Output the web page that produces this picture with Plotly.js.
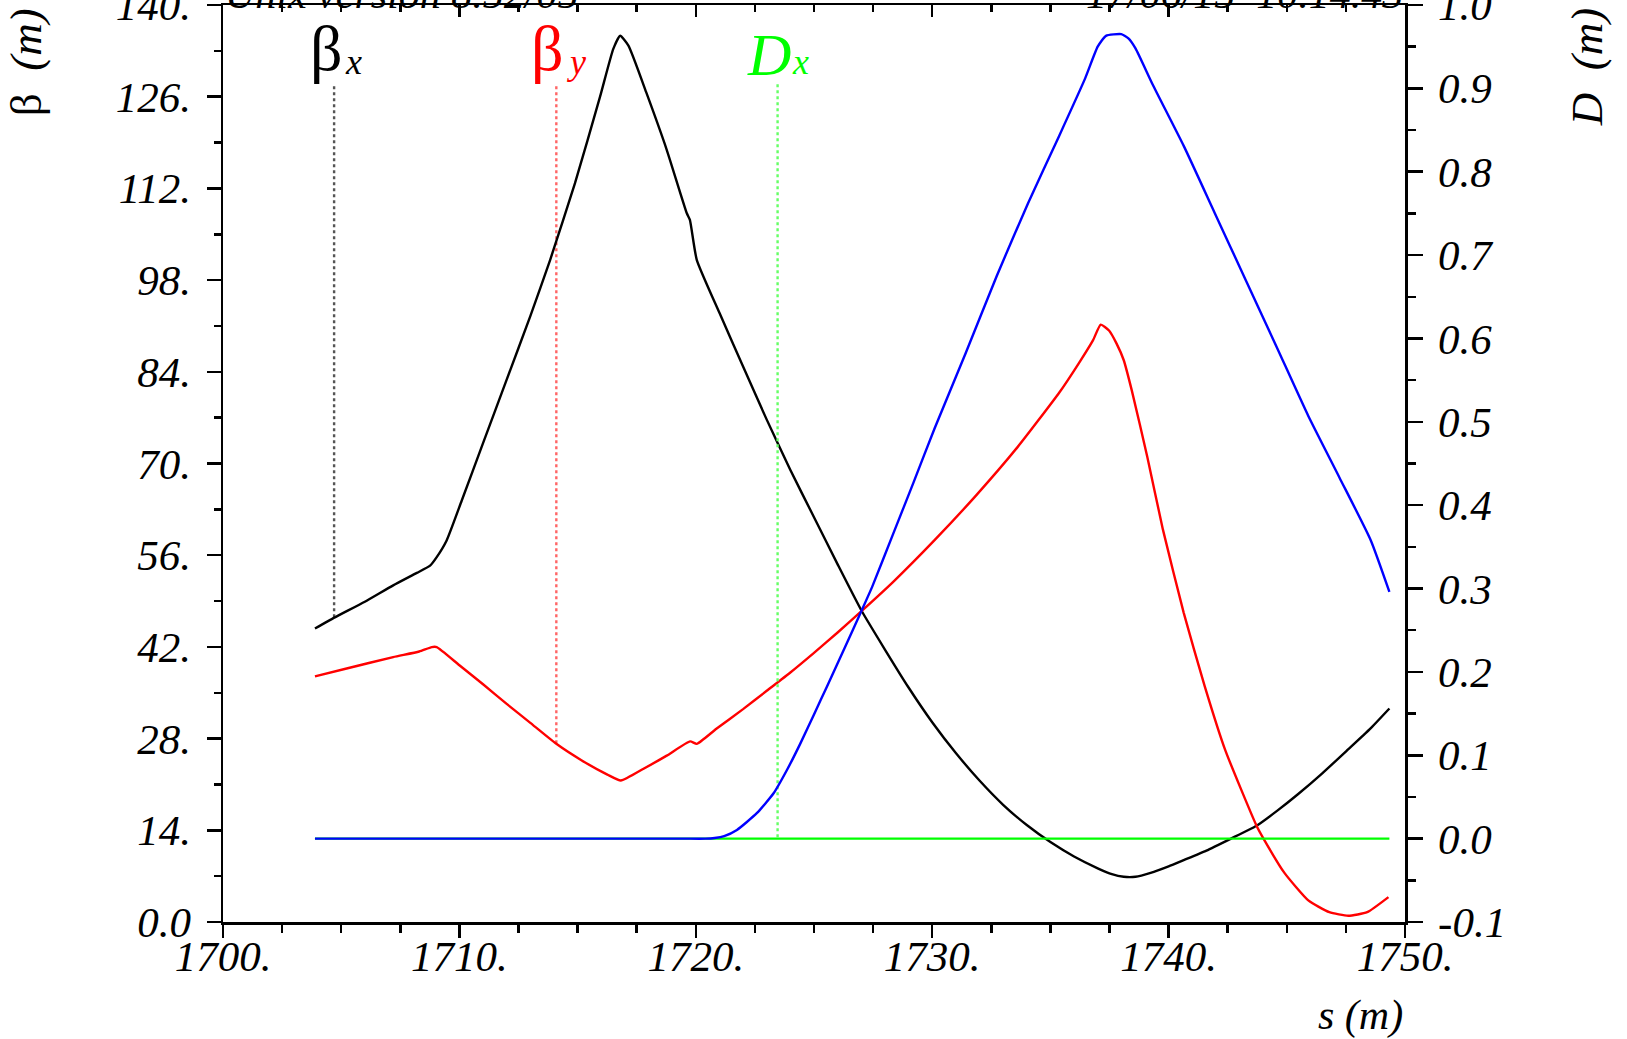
<!DOCTYPE html>
<html>
<head>
<meta charset="utf-8">
<script src="https://cdn.plot.ly/plotly-3.0.1.min.js"></script>
<style>html,body{margin:0;padding:0;background:#fff;}#chart{width:1627px;height:1039px;}</style>
</head>
<body>
<div id="chart"></div>
<script>
// ---- data ----
const sBetaX = [1703.89,1704.73,1706.0,1707.2,1708.2,1708.76,1709.04,1709.46,1710.1,1711.0,1712.0,1713.0,1713.84,1714.89,1715.95,1716.51,1716.8,1717.15,1717.92,1718.77,1719.62,1719.75,1720.04,1721,1722,1723,1724,1725,1726,1727,1728,1729,1730,1731,1732,1733,1734,1735,1736,1737,1737.6,1738.1,1738.6,1739.24,1740.0,1740.64,1741.6,1742.62,1743.72,1744.6,1745.47,1746.5,1747.58,1748.5,1749.34];
const betaX  = [44.8,46.5,48.9,51.4,53.3,54.4,55.7,58.25,64.35,73.1,82.8,92.5,101.1,112.8,126.0,133.3,135.3,133.8,126.5,117.9,108.2,107.2,101.1,93.0,84.8,76.7,69.0,61.8,54.6,47.6,41.6,35.8,30.5,25.8,21.6,17.9,14.8,12.2,10.0,8.2,7.3,6.9,6.9,7.5,8.5,9.45,10.9,12.7,14.7,17.0,19.5,22.7,26.3,29.4,32.6];

const sBetaY = [1703.89,1705.23,1707.2,1708.3,1708.83,1709.04,1710.0,1711.0,1712.0,1713.0,1714.1,1715.16,1716.26,1716.83,1717.79,1718.77,1719.76,1720.04,1720.87,1722.0,1723.0,1724.0,1725.0,1726.0,1727.02,1728.34,1730.1,1731.85,1733.61,1735.37,1736.2,1736.8,1737.13,1737.48,1737.8,1738.1,1738.44,1739.1,1739.76,1740.64,1741.52,1742.4,1743.72,1744.02,1744.9,1745.91,1746.8,1747.6,1748.4,1749.3];
const betaY  = [37.5,38.7,40.45,41.3,41.97,41.97,39.2,36.3,33.3,30.4,27.2,24.7,22.5,21.6,23.4,25.4,27.57,27.2,29.5,32.5,35.3,38.1,41.1,44.2,47.5,51.9,58.3,65.1,72.5,80.8,85.3,88.8,91.2,90.3,88.3,85.8,81.2,71.0,59.9,47.2,36.1,26.2,14.7,12.7,7.5,3.3,1.5,0.95,1.5,3.8];

const sDx = [1703.89,1749.34];
const dispX = [0.0,0.0];

const sDy = [1703.89,1712.0,1719.5,1720.4,1720.8,1721.2,1721.74,1722.58,1723.29,1723.85,1724.42,1725.0,1725.54,1726.3,1727.02,1727.46,1728.34,1729.22,1730.1,1731.41,1732.73,1734.05,1735.37,1736.47,1737.0,1737.35,1738.0,1738.3,1738.6,1739.32,1740.64,1741.96,1743.28,1744.6,1745.91,1747.23,1748.55,1749.34];
const dispY = [0.0,0.0,0.0,0.0,0.0008,0.003,0.0104,0.0305,0.0544,0.082,0.114,0.149,0.182,0.229,0.274,0.302,0.365,0.428,0.492,0.582,0.675,0.762,0.843,0.912,0.950,0.963,0.965,0.960,0.948,0.905,0.831,0.750,0.669,0.588,0.507,0.433,0.358,0.296];

// label marker lines: s position, top value, value on the curve
const markBx = {s:1704.7, top:127.6, val:46.5};
const markBy = {s:1714.1, top:127.6, val:27.2};
const markDx = {s:1723.46, top:0.905, val:0.0};

const xTickVals = [1700,1710,1720,1730,1740,1750];
const xTickText = ['1700.','1710.','1720.','1730.','1740.','1750.'];
const yTickVals = [0,14,28,42,56,70,84,98,112,126,140];
const yTickText = ['0.0','14.','28.','42.','56.','70.','84.','98.','112.','126.','140.'];
const y2TickVals = [-0.1,0,0.1,0.2,0.3,0.4,0.5,0.6,0.7,0.8,0.9,1.0];
const y2TickText = ['-0.1','0.0','0.1','0.2','0.3','0.4','0.5','0.6','0.7','0.8','0.9','1.0'];

const headerLeft = 'Unix version 8.52/05';
const headerRight = '17/06/15  10.14.43';

// ---- drawing ----
const serif = 'Liberation Serif, Times New Roman, serif';
const ital = {family: serif, size: 43, color: '#000', style: 'italic'};
const curve = (c) => ({color:c, width:2.4, shape:'spline', smoothing:0.5});

const traces = [
  {x:[markBx.s,markBx.s], y:[markBx.top,markBx.val], xaxis:'x', yaxis:'y', mode:'lines', line:{color:'#555555', width:2.4, dash:'dot'}},
  {x:[markBy.s,markBy.s], y:[markBy.top,markBy.val], xaxis:'x', yaxis:'y', mode:'lines', line:{color:'#ff6666', width:2.4, dash:'dot'}},
  {x:[markDx.s,markDx.s], y:[markDx.top,markDx.val], xaxis:'x', yaxis:'y2', mode:'lines', line:{color:'#66ff66', width:2.4, dash:'dot'}},
  {x:sBetaX, y:betaX, xaxis:'x', yaxis:'y', mode:'lines', line:curve('#000000')},
  {x:sBetaY, y:betaY, xaxis:'x', yaxis:'y', mode:'lines', line:curve('#ff0000')},
  {x:sDx, y:dispX, xaxis:'x', yaxis:'y2', mode:'lines', line:{color:'#00ff00', width:2.4}},
  {x:sDy, y:dispY, xaxis:'x', yaxis:'y2', mode:'lines', line:curve('#0000ff')},
  {x:[1700,1750], y:[0,0], xaxis:'x2', yaxis:'y', mode:'lines', line:{width:0}, showlegend:false}
];

const tickCommon = {tickwidth:2.5, tickcolor:'#000', showline:true, linecolor:'#000', linewidth:2.5, showgrid:false, zeroline:false, ticklabeloverflow:'allow'};

const layout = {
  width:1627, height:1039,
  margin:{l:223, r:222, t:5, b:117, pad:0},
  paper_bgcolor:'#fff', plot_bgcolor:'#fff',
  showlegend:false,
  font:{family:serif, color:'#000'},
  xaxis:Object.assign({range:[1700,1750], tickvals:xTickVals, ticktext:xTickText, ticks:'outside', ticklen:13, tickfont:ital, ticklabelstandoff:-18,
         minor:{dtick:2.5, ticks:'outside', ticklen:8, tickwidth:2.5, tickcolor:'#000', showgrid:false}}, tickCommon),
  xaxis2:Object.assign({range:[1700,1750], overlaying:'x', side:'top', anchor:'y', tickvals:xTickVals, showticklabels:false, ticks:'inside', ticklen:12,
         minor:{dtick:2.5, ticks:'inside', ticklen:7, tickwidth:2.5, tickcolor:'#000', showgrid:false}}, tickCommon),
  yaxis:Object.assign({range:[0,140], tickvals:yTickVals, ticktext:yTickText, ticks:'outside', ticklen:14, tickfont:ital, ticklabelstandoff:7,
         minor:{dtick:7, ticks:'outside', ticklen:7, tickwidth:2.5, tickcolor:'#000', showgrid:false}}, tickCommon),
  yaxis2:Object.assign({range:[-0.1,1.0], overlaying:'y', side:'right', anchor:'x', tickvals:y2TickVals, ticktext:y2TickText, ticks:'outside', ticklen:15, tickfont:ital, ticklabelstandoff:7,
         minor:{dtick:0.05, ticks:'outside', ticklen:8, tickwidth:2.5, tickcolor:'#000', showgrid:false}}, tickCommon),
  annotations:[
    {text:'β  <i>(m)</i>', xref:'paper', yref:'paper', x:-0.158, y:1.0, xanchor:'center', yanchor:'top', textangle:-90, showarrow:false, font:{family:serif, size:45, color:'#000'}, xshift:-10, yshift:-1},
    {text:'<i>D  (m)</i>', xref:'paper', yref:'paper', x:1.1575, y:1.0, xanchor:'center', yanchor:'top', textangle:-90, showarrow:false, font:{family:serif, size:45, color:'#000'}, xshift:-4, yshift:-1},
    {text:'<i>s (m)</i>', xref:'paper', yref:'paper', x:1.0, y:0, xanchor:'right', yanchor:'middle', showarrow:false, font:{family:serif, size:42, color:'#000'}, yshift:-93},
    {text:'<i>'+headerLeft+'</i>', xref:'paper', yref:'paper', x:0.0, y:1.0, xanchor:'left', yanchor:'bottom', showarrow:false, font:{family:serif, size:42, color:'#000'}, yshift:-14},
    {text:'<i>'+headerRight+'</i>', xref:'paper', yref:'paper', x:1.0, y:1.0, xanchor:'right', yanchor:'bottom', showarrow:false, font:{family:serif, size:42, color:'#000'}, yshift:-14},
    {text:'β', xref:'paper', yref:'paper', x:0.0719, y:0.9531, xanchor:'left', yanchor:'middle', showarrow:false, font:{family:serif, size:64, color:'#000000'}},
    {text:'<i>x</i>', xref:'paper', yref:'paper', x:0.1016, y:0.9373, xanchor:'left', yanchor:'middle', showarrow:false, font:{family:serif, size:36, color:'#000000'}},
    {text:'β', xref:'paper', yref:'paper', x:0.2589, y:0.9531, xanchor:'left', yanchor:'middle', showarrow:false, font:{family:serif, size:64, color:'#ff0000'}},
    {text:'<i>y</i>', xref:'paper', yref:'paper', x:0.2897, y:0.9373, xanchor:'left', yanchor:'middle', showarrow:false, font:{family:serif, size:36, color:'#ff0000'}},
    {text:'<i>D</i>', xref:'paper', yref:'paper', x:0.4420, y:0.9459, xanchor:'left', yanchor:'middle', showarrow:false, font:{family:serif, size:60, color:'#00ff00'}},
    {text:'<i>x</i>', xref:'paper', yref:'paper', x:0.4800, y:0.9373, xanchor:'left', yanchor:'middle', showarrow:false, font:{family:serif, size:36, color:'#00ff00'}}
  ]
};

Plotly.newPlot('chart', traces, layout, {staticPlot:true, displayModeBar:false});
</script>
</body>
</html>
